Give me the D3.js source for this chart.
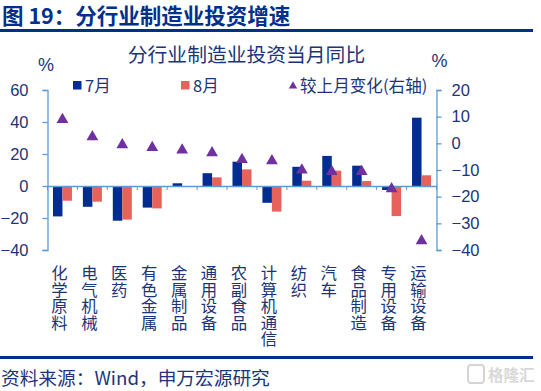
<!DOCTYPE html>
<html><head><meta charset="utf-8">
<script src="https://cdnjs.cloudflare.com/ajax/libs/d3/7.8.5/d3.min.js"></script>
<style>html,body{margin:0;padding:0;background:#fff}svg{display:block}text{font-family:"Noto Sans CJK SC","Noto Sans",sans-serif}</style>
</head><body><svg id="c" width="541" height="391"></svg>
<script>
const categories=["化学原料","电气机械","医药","有色金属","金属制品","通用设备","农副食品","计算机通信","纺织","汽车","食品制造","专用设备","运输设备"];
const july=[-19,-13,-21.7,-13.5,1.7,8,15.2,-10.5,12,18.8,12.7,-2.5,42.7];
const august=[-9.2,-9.8,-21,-14,0,5.4,10.4,-16,3.3,9.6,3.1,-18.8,6.7];
const change=[9.5,3,0,-1,-2,-3,-5.5,-6,-9.5,-10,-10,-16.5,-36];
const leftTicks=[60,40,20,0,-20,-40];
const rightTicks=[20,10,0,-10,-20,-30,-40];
const seriesNames=["7月","8月","较上月变化(右轴)"];
const headerText="图 19：分行业制造业投资增速";
const titleText="分行业制造业投资当月同比";
const sourceText="资料来源：Wind，申万宏源研究";
const navy="#002d8f",red="#e8625c",purple="#7030a0",axisC="#5b9bd5",txt="#1c3578",rule="#00308c";
const latin='"Liberation Sans","Noto Sans CJK SC",sans-serif';

const svg=d3.select("#c");
const L=47.5,R=436.5,T=90,B=250;
const x=d3.scaleBand().domain(categories).range([L,R]);
const y=d3.scaleLinear().domain([-40,60]).range([B,T]);
const y2=d3.scaleLinear().domain([-40,20]).range([B,T]);
const bw=9.5;

// header
svg.append("text").attr("x",2).attr("y",24).attr("font-size",21.5).attr("font-weight",700).attr("fill",rule).text(headerText);
svg.append("rect").attr("x",0).attr("y",29).attr("width",533).attr("height",3).attr("fill",rule);
svg.append("rect").attr("x",0).attr("y",356).attr("width",533).attr("height",3).attr("fill",rule);
svg.append("text").attr("x",1).attr("y",385).attr("font-size",18.7).attr("fill",txt).text(sourceText);

// title
svg.append("text").attr("x",246.5).attr("y",62).attr("text-anchor","middle").attr("font-size",19.8).attr("fill",txt).text(titleText);
svg.append("text").attr("x",46).attr("y",71).attr("text-anchor","middle").attr("font-size",18).attr("fill",txt).style("font-family",latin).text("%");
svg.append("text").attr("x",439.5).attr("y",67).attr("text-anchor","middle").attr("font-size",18).attr("fill",txt).style("font-family",latin).text("%");

// bars
const g=svg.append("g");
g.selectAll(".j").data(categories).join("rect")
 .attr("x",d=>x(d)+x.bandwidth()/2-bw).attr("width",bw)
 .attr("y",(d,i)=>Math.min(y(july[i]),y(0))).attr("height",(d,i)=>Math.abs(y(july[i])-y(0))).attr("fill",navy);
g.selectAll(".a").data(categories).join("rect")
 .attr("x",d=>x(d)+x.bandwidth()/2).attr("width",bw)
 .attr("y",(d,i)=>Math.min(y(august[i]),y(0))).attr("height",(d,i)=>Math.abs(y(august[i])-y(0))).attr("fill",red);

// axes
const ax=svg.append("g").attr("transform",`translate(${L},0)`).call(d3.axisLeft(y).tickValues(leftTicks).tickSize(5).tickPadding(14));
const ay=svg.append("g").attr("transform",`translate(${R},0)`).call(d3.axisRight(y2).tickValues(rightTicks).tickSize(5).tickPadding(10));
const xa=svg.append("g").attr("transform",`translate(0,${y(0)})`).call(d3.axisBottom(x).tickSize(0).tickFormat(""));
xa.selectAll(".tick").remove();
xa.selectAll(".sep").data(d3.range(categories.length+1)).join("line")
 .attr("x1",i=>L+i*x.step()).attr("x2",i=>L+i*x.step()).attr("y1",0).attr("y2",4).attr("stroke",axisC);
[ax,ay,xa].forEach(a=>{a.selectAll("path,.tick line").attr("stroke",axisC).attr("stroke-width",1.3);
 a.selectAll("text").attr("font-size",16.5).attr("fill",txt).style("font-family",latin);});

// category labels (vertical, one text per category)
svg.append("g").selectAll("text").data(categories).join("text")
 .attr("x",d=>x(d)+x.bandwidth()/2-3).attr("y",265)
 .attr("font-size",16.4).attr("fill",txt)
 .style("writing-mode","vertical-rl").style("text-orientation","upright")
 .text(d=>d);

// triangles
const tri=d3.symbol().type(d3.symbolTriangle).size(60);
svg.append("g").selectAll("path").data(categories).join("path")
 .attr("d",tri).attr("fill",purple)
 .attr("transform",(d,i)=>`translate(${x(d)+x.bandwidth()/2},${y2(change[i])+1.5})`);

// legend
svg.append("rect").attr("x",73).attr("y",81).attr("width",8.5).attr("height",8.5).attr("fill",navy);
svg.append("text").attr("x",85).attr("y",92).attr("font-size",16.5).attr("fill",txt).text(seriesNames[0]);
svg.append("rect").attr("x",181).attr("y",81).attr("width",8.5).attr("height",8.5).attr("fill",red);
svg.append("text").attr("x",193).attr("y",92).attr("font-size",16.5).attr("fill",txt).text(seriesNames[1]);
svg.append("path").attr("d",d3.symbol().type(d3.symbolTriangle).size(30)).attr("fill",purple).attr("transform","translate(293,86)");
svg.append("text").attr("x",300).attr("y",92).attr("font-size",16.6).attr("fill",txt).text(seriesNames[2]);

// watermark
svg.append("rect").attr("x",468).attr("y",365).attr("width",16).attr("height",18).attr("rx",3).attr("fill","none").attr("stroke","#d4d4d4").attr("stroke-width",2);
svg.append("text").attr("x",488).attr("y",381).attr("font-size",15.5).attr("font-weight",700).attr("fill","#d8d8d8").text("格隆汇");
</script></body></html>
